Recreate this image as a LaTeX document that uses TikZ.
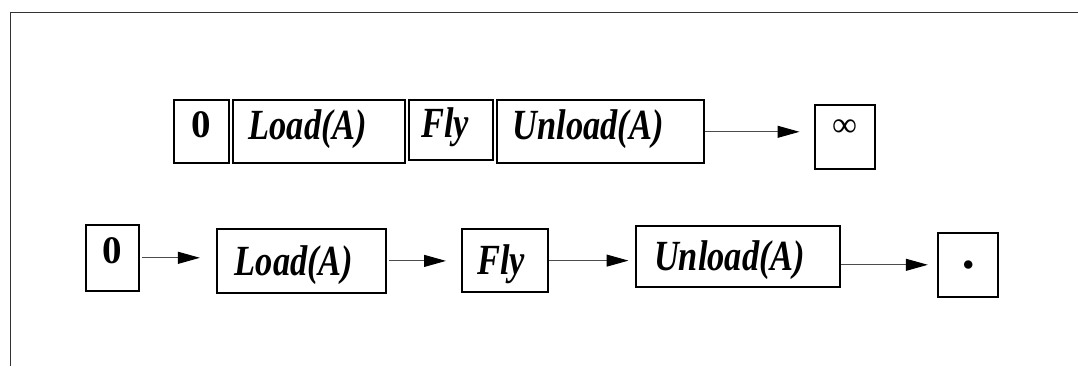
\documentclass[tikz,border=0pt]{standalone}
\usepackage{fontspec}
\setmainfont{Liberation Serif}
\newfontfamily\actfamily[FakeStretch=0.8]{Liberation Serif}
\usepackage{tikz}
\usetikzlibrary{arrows.meta}
\newcommand{\actfont}{\fontsize{21.5}{24}\actfamily\selectfont\bfseries\itshape}
\tikzset{
  stepbox/.style={draw, line width=1pt, inner xsep=9pt, inner ysep=0pt, anchor=north west,
    align=left, font=\actfont, text height=16pt, text depth=1.8pt},
  toprow/.style={inner xsep=7.8pt, text height=13pt, text depth=5.6pt},
  zerobox/.style={draw, line width=1pt, inner sep=0pt, anchor=north west,
    font=\fontsize{19.5}{22}\selectfont\bfseries, text height=12.5pt, text depth=7.3pt},
  endbox/.style={draw, line width=1pt, inner sep=0pt, anchor=north west, minimum width=30pt},
  link/.style={-{Triangle[length=11pt,width=6pt,color=black]}, line width=0.5pt, black!70},
}

\begin{document}
\begin{tikzpicture}[x=0.5pt, y=-0.5pt]
    \useasboundingbox (0,0) rectangle (1078,366);
    % Frame
    \draw[black!80, line width=0.6pt] (10.3,366) -- (10.3,12.4) -- (1078,12.4);
    % Top row: steps packed together
    \node[zerobox, minimum width=27.4pt, minimum height=31.6pt] (zeroT) at (173.2,99.2) {0};
    \node[stepbox, toprow, text width=70.3pt, minimum height=31.6pt] (loadT) at (232.1,99.2) {Load(A)};
    \node[stepbox, toprow, inner xsep=6pt, text width=30.1pt, minimum height=30.1pt] (flyT) at (408.1,99.2) {Fly};
    \node[stepbox, toprow, text width=87.8pt, minimum height=31.6pt] (unloadT) at (495.9,99.2) {Unload(A)};
    \node[endbox, minimum height=32.3pt, font=\fontsize{17.5}{20}\selectfont, text height=8pt, text depth=8pt] (infT) at (813.5,103.6) {∞};
    \draw[link, shorten >=7pt] (unloadT.east) -- (infT.west |- unloadT.east);
    % Bottom row: steps in sequence
    \node[zerobox, minimum width=26.2pt, minimum height=32.7pt] (zeroB) at (85.4,224.1) {0};
    \node[stepbox, text width=66.7pt, minimum height=32.4pt] (loadB) at (215.9,227.5) {Load(A)};
    \node[stepbox, inner xsep=7.5pt, text width=28pt, minimum height=31.4pt] (flyB) at (461.4,228.2) {Fly};
    \node[stepbox, text width=83.9pt, minimum height=30.9pt] (unloadB) at (635.1,224.6) {Unload(A)};
    \node[endbox, minimum height=32.3pt, font=\fontsize{11}{13}\selectfont, text height=5.5pt, text depth=0pt] (dotB) at (937.4,231.5) {$\bullet$};
    % Arrows
    \draw[link, shorten <=1pt, shorten >=8pt] (zeroB.east) -- (loadB.west |- zeroB.east);
    \draw[link, shorten <=1pt, shorten >=7.7pt] (loadB.east) -- (flyB.west |- loadB.east);
    \draw[link, shorten >=3.3pt] (flyB.east) -- (unloadB.west |- flyB.east);
    \draw[link, shorten >=4.8pt] (unloadB.east |- dotB.west) -- (dotB.west);
\end{tikzpicture}
\end{document}
